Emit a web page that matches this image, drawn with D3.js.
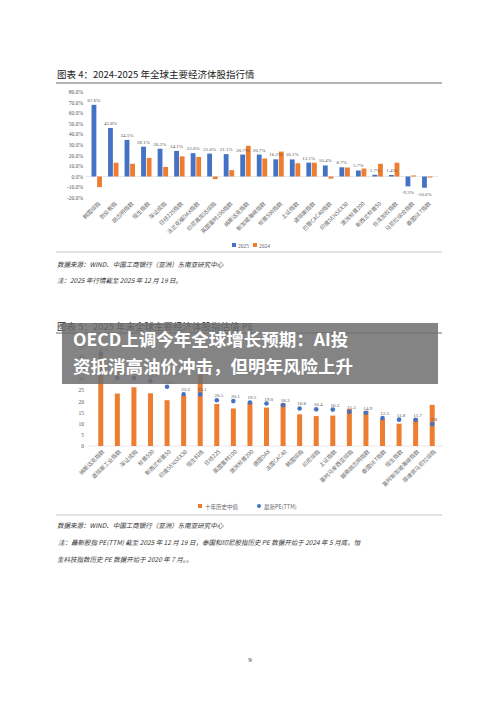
<!DOCTYPE html><html><head><meta charset="utf-8">
<script src="https://cdn.jsdelivr.net/npm/d3@7"></script>
<style>body{margin:0;background:#fff}svg{display:block}</style></head><body>
<svg id="c" width="500" height="707"></svg>
<script>
const cats1=["韩国综指","创业板指","胡志明指数","恒生指数","深证成指","日经225指数","法兰克福DAX指数","印尼雅加达综指","英国富时100指数","纳斯达克指数","新加坡海峡指数","标普500指数","上证指数","道琼斯指数","巴黎CAC40指数","印度SENSEX30","澳洲标普200","新西兰标普50","台湾加权指数","马尼拉综合指数","泰国SET指数"];
const v2025=[67.6,45.8,34.5,28.1,26.2,24.1,22.0,21.6,21.1,20.7,20.7,16.2,16.1,13.1,10.4,8.7,5.7,1.7,1.4,-9.3,-10.6];
const v2024=[-10,13,12,17.5,9,19,18.5,-2.5,6,29,17,23.5,12.5,13,-2,8.5,7.5,12,13,1,-1];
const ticks1=[80,70,60,50,40,30,20,10,0,-10,-20];
const cats2=["纳斯达克指数","道琼斯工业指数","深证成指","标普500","新西兰标普50","印度SENSEX30","恒生科技","日经225","英国富时100","澳洲标普200","德国DAX","法国CAC40","韩国综指","印尼综指","上证指数","富时马来西亚综指","越南胡志明指数","泰国SET指数","恒生指数","富时新加坡海峡指数","菲律宾马尼拉综指"];
const median=[41,23.5,26.3,23.6,20.5,22.5,32,18.8,16.8,19.4,17.2,19.1,14.2,13.4,13.6,16.6,15.7,12.3,10,12.2,18.4];
const pe=[41.4,30.5,30.4,29.1,26.5,23.2,23.1,20.5,20.1,19.5,19.0,18.3,16.8,16.4,16.3,15.3,14.9,12.5,11.8,11.7,9.8];
const ticks2=[0,5,10,15,20,25,30,35,40,45];
const BLUE="#4472c4",ORANGE="#ed7d31",serif="'Liberation Serif',serif",sans="'Noto Sans CJK SC',sans-serif";
const svg=d3.select("#c");
// chart 1
svg.append("text").attr("x",57).attr("y",78).attr("font-family",sans).attr("font-size",9.5).attr("fill","#222").text("图表 4：2024-2025 年全球主要经济体股指行情");
svg.append("line").attr("x1",56).attr("x2",442).attr("y1",83).attr("y2",83).attr("stroke","#444").attr("stroke-width",0.8);
const x1=d3.scaleBand().domain(cats1).range([86,438]).padding(0.3);
const y1=d3.scaleLinear().domain([-20,80]).range([197.7,91.7]);
const g1=svg.append("g");
g1.append("g").attr("transform","translate(86,0)").call(d3.axisLeft(y1).tickValues(ticks1).tickSize(0).tickFormat(d=>d.toFixed(1)+"%")).call(g=>g.select(".domain").remove()).selectAll("text").attr("font-family",serif).attr("font-size",5.5).attr("fill","#555");
g1.append("line").attr("x1",86).attr("x2",438).attr("y1",y1(0)).attr("y2",y1(0)).attr("stroke","#d9d9d9").attr("stroke-width",0.6);
const bw=x1.bandwidth()/2.4;
g1.selectAll(".b25").data(cats1).join("rect").attr("x",d=>x1(d)+x1.bandwidth()*0.05).attr("width",bw).attr("y",(d,i)=>y1(Math.max(0,v2025[i]))).attr("height",(d,i)=>Math.abs(y1(v2025[i])-y1(0))).attr("fill",BLUE);
g1.selectAll(".b24").data(cats1).join("rect").attr("x",d=>x1(d)+x1.bandwidth()*0.95-bw).attr("width",bw).attr("y",(d,i)=>y1(Math.max(0,v2024[i]))).attr("height",(d,i)=>Math.abs(y1(v2024[i])-y1(0))).attr("fill",ORANGE);
g1.selectAll(".l").data(cats1).join("text").attr("x",d=>x1(d)+x1.bandwidth()*0.05+bw/2).attr("y",(d,i)=>v2025[i]>=0?y1(v2025[i])-3:y1(v2025[i])+8).attr("text-anchor","middle").attr("font-family",serif).attr("font-size",5).attr("fill","#555").text((d,i)=>v2025[i].toFixed(1)+"%");
g1.selectAll(".c").data(cats1).join("text").attr("transform",d=>`translate(${x1(d)+x1.bandwidth()/2+4},${204}) rotate(-45)`).attr("text-anchor","end").attr("font-family",sans).attr("font-size",5.5).attr("fill","#666").text(d=>d);
svg.append("rect").attr("x",232).attr("y",243).attr("width",4).attr("height",4).attr("fill",BLUE);
svg.append("text").attr("x",238).attr("y",247.5).attr("font-family",serif).attr("font-size",5.5).attr("fill","#666").text("2025");
svg.append("rect").attr("x",253).attr("y",243).attr("width",4).attr("height",4).attr("fill",ORANGE);
svg.append("text").attr("x",259).attr("y",247.5).attr("font-family",serif).attr("font-size",5.5).attr("fill","#666").text("2024");
svg.append("line").attr("x1",56).attr("x2",442).attr("y1",252).attr("y2",252).attr("stroke","#888").attr("stroke-width",0.5);
svg.append("text").attr("x",57).attr("y",267).attr("font-family",sans).attr("font-size",6.5).attr("font-style","italic").attr("fill","#333").text("数据来源：WIND、中国工商银行（亚洲）东南亚研究中心");
svg.append("text").attr("x",57).attr("y",283).attr("font-family",sans).attr("font-size",6.5).attr("font-style","italic").attr("fill","#333").text("注：2025 年行情截至 2025 年 12 月 19 日。");
// chart 2
svg.append("text").attr("x",57).attr("y",330).attr("font-family",sans).attr("font-size",9.5).attr("fill","#222").text("图表 5：2025 年末全球主要经济体股指估值 PE");
svg.append("line").attr("x1",56).attr("x2",442).attr("y1",333).attr("y2",333).attr("stroke","#444").attr("stroke-width",0.8);
const x2=d3.scaleBand().domain(cats2).range([90,443]).padding(0.3);
const y2=d3.scaleLinear().domain([0,45]).range([446,345.5]);
const g2=svg.append("g");
g2.append("g").attr("transform","translate(87,0)").call(d3.axisLeft(y2).tickValues(ticks2).tickSize(0)).call(g=>g.select(".domain").remove()).selectAll("text").attr("font-family",serif).attr("font-size",5.5).attr("fill","#555");
g2.append("line").attr("x1",88).attr("x2",443).attr("y1",y2(0)).attr("y2",y2(0)).attr("stroke","#d9d9d9").attr("stroke-width",0.6);
const bw2=5;
g2.selectAll(".m").data(cats2).join("rect").attr("x",d=>x2(d)+x2.bandwidth()/2-bw2/2).attr("width",bw2).attr("y",(d,i)=>y2(median[i])).attr("height",(d,i)=>y2(0)-y2(median[i])).attr("fill",ORANGE);
g2.selectAll(".p").data(cats2).join("circle").attr("cx",d=>x2(d)+x2.bandwidth()/2).attr("cy",(d,i)=>y2(pe[i])).attr("r",2.3).attr("fill",BLUE);
g2.selectAll(".pl").data(cats2).join("text").attr("x",d=>x2(d)+x2.bandwidth()/2+2).attr("y",(d,i)=>y2(pe[i])-3).attr("text-anchor","middle").attr("font-family",serif).attr("font-size",5).attr("fill","#555").text((d,i)=>pe[i].toFixed(1));
g2.selectAll(".c2").data(cats2).join("text").attr("transform",d=>`translate(${x2(d)+x2.bandwidth()/2+4},${452}) rotate(-45)`).attr("text-anchor","end").attr("font-family",sans).attr("font-size",5.5).attr("fill","#666").text(d=>d);
svg.append("rect").attr("x",198).attr("y",504).attr("width",4).attr("height",4).attr("fill",ORANGE);
svg.append("text").attr("x",205).attr("y",508.5).attr("font-family",sans).attr("font-size",5.5).attr("fill","#666").text("十年历史中值");
svg.append("circle").attr("cx",259).attr("cy",506).attr("r",2).attr("fill",BLUE);
svg.append("text").attr("x",264).attr("y",508.5).attr("font-family",sans).attr("font-size",5.5).attr("fill","#666").text("最新PE(TTM)");
svg.append("line").attr("x1",56).attr("x2",442).attr("y1",515).attr("y2",515).attr("stroke","#888").attr("stroke-width",0.5);
svg.append("text").attr("x",57).attr("y",528).attr("font-family",sans).attr("font-size",6.5).attr("font-style","italic").attr("fill","#333").text("数据来源：WIND、中国工商银行（亚洲）东南亚研究中心");
svg.append("text").attr("x",58).attr("y",545).attr("font-family",sans).attr("font-size",6.5).attr("font-style","italic").attr("fill","#333").text("注：最新股指 PE(TTM) 截至 2025 年 12 月 19 日，泰国和印尼股指历史 PE 数据开始于 2024 年 5 月底，恒");
svg.append("text").attr("x",57).attr("y",562).attr("font-family",sans).attr("font-size",6.5).attr("font-style","italic").attr("fill","#333").text("生科技指数历史 PE 数据开始于 2020 年 7 月。。");
svg.append("text").attr("x",250).attr("y",662).attr("text-anchor","middle").attr("font-family",serif).attr("font-size",7).attr("fill","#333").text("9");
// overlay
svg.append("rect").attr("x",62).attr("y",323).attr("width",376).attr("height",61).attr("fill","rgba(110,110,110,0.85)");
svg.append("text").attr("x",73).attr("y",346).attr("font-family",sans).attr("font-weight","bold").attr("font-size",17.5).attr("fill","#fff").text("OECD上调今年全球增长预期：AI投");
svg.append("text").attr("x",73).attr("y",373).attr("font-family",sans).attr("font-weight","bold").attr("font-size",17.5).attr("fill","#fff").text("资抵消高油价冲击，但明年风险上升");
</script></body></html>
